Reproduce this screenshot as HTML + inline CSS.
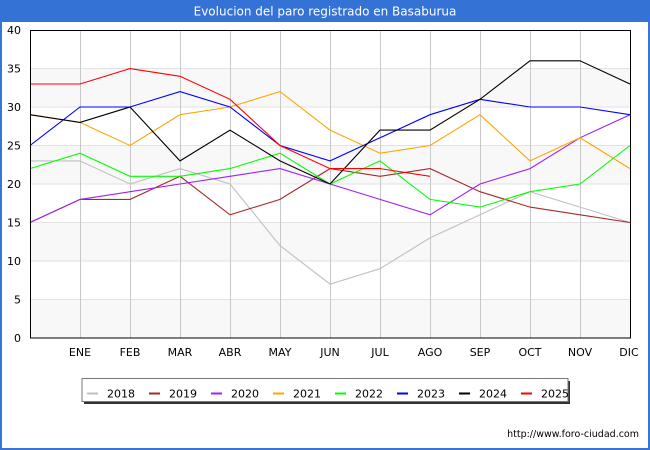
<!DOCTYPE html>
<html><head><meta charset="utf-8"><style>
html,body{margin:0;padding:0;background:#fff;}
svg{display:block;}
text{font-family:"DejaVu Sans","Liberation Sans",sans-serif;}
</style></head><body>
<svg width="650" height="450" viewBox="0 0 650 450" xmlns="http://www.w3.org/2000/svg">
<rect x="0" y="0" width="650" height="450" fill="#fff"/>
<rect x="1" y="1" width="648" height="448" fill="none" stroke="#3a74d6" stroke-width="2"/>
<rect x="0" y="0" width="650" height="22" fill="#3572d6"/>
<text x="325" y="15.5" fill="#fff" font-size="12" text-anchor="middle">Evolucion del paro registrado en Basaburua</text>
<!-- bands -->
<rect x="30" y="299.5" width="600" height="38.5" fill="#f8f8f8"/>
<rect x="30" y="222.5" width="600" height="38.5" fill="#f8f8f8"/>
<rect x="30" y="145.5" width="600" height="38.5" fill="#f8f8f8"/>
<rect x="30" y="68.5" width="600" height="38.5" fill="#f8f8f8"/>
<g stroke="#e2e2e2" stroke-width="1">
<line x1="30" y1="299.5" x2="630" y2="299.5"/>
<line x1="30" y1="261" x2="630" y2="261"/>
<line x1="30" y1="222.5" x2="630" y2="222.5"/>
<line x1="30" y1="184" x2="630" y2="184"/>
<line x1="30" y1="145.5" x2="630" y2="145.5"/>
<line x1="30" y1="107" x2="630" y2="107"/>
<line x1="30" y1="68.5" x2="630" y2="68.5"/>
</g>
<g stroke="#c8c8c8" stroke-width="1">
<line x1="80.5" y1="30" x2="80.5" y2="338"/>
<line x1="130.5" y1="30" x2="130.5" y2="338"/>
<line x1="180.5" y1="30" x2="180.5" y2="338"/>
<line x1="230.5" y1="30" x2="230.5" y2="338"/>
<line x1="280.5" y1="30" x2="280.5" y2="338"/>
<line x1="330.5" y1="30" x2="330.5" y2="338"/>
<line x1="380.5" y1="30" x2="380.5" y2="338"/>
<line x1="430.5" y1="30" x2="430.5" y2="338"/>
<line x1="480.5" y1="30" x2="480.5" y2="338"/>
<line x1="530.5" y1="30" x2="530.5" y2="338"/>
<line x1="580.5" y1="30" x2="580.5" y2="338"/>
</g>
<g fill="none" stroke-width="1.1" stroke-linejoin="miter">
<polyline stroke="#c0c0c0" points="30,160.9 80,160.9 130,184 180,168.6 230,184 280,245.6 330,284.1 380,268.7 430,237.9 480,214.8 530,191.7 580,207.1 630,222.5"/>
<polyline stroke="#a52a2a" points="30,222.5 80,199.4 130,199.4 180,176.3 230,214.8 280,199.4 330,168.6 380,176.3 430,168.6 480,191.7 530,207.1 580,214.8 630,222.5"/>
<polyline stroke="#a020f0" points="30,222.5 80,199.4 130,191.7 180,184 230,176.3 280,168.6 330,184 380,199.4 430,214.8 480,184 530,168.6 580,137.8 630,114.7"/>
<polyline stroke="#ffa500" points="30,114.7 80,122.4 130,145.5 180,114.7 230,107 280,91.6 330,130.1 380,153.2 430,145.5 480,114.7 530,160.9 580,137.8 630,168.6"/>
<polyline stroke="#00ff00" points="30,168.6 80,153.2 130,176.3 180,176.3 230,168.6 280,153.2 330,184 380,160.9 430,199.4 480,207.1 530,191.7 580,184 630,145.5"/>
<polyline stroke="#0000ff" points="30,145.5 80,107 130,107 180,91.6 230,107 280,145.5 330,160.9 380,137.8 430,114.7 480,99.3 530,107 580,107 630,114.7"/>
<polyline stroke="#000000" points="30,114.7 80,122.4 130,107 180,160.9 230,130.1 280,160.9 330,184 380,130.1 430,130.1 480,99.3 530,60.8 580,60.8 630,84"/>
<polyline stroke="#ff0000" points="30,84 80,84 130,68.6 180,76.3 230,99.3 280,145.5 330,168.6 380,168.6 430,176.3"/>
</g>
<rect x="30.5" y="30.5" width="600" height="307.5" fill="none" stroke="#000" stroke-width="1"/>
<g font-size="11" fill="#000" text-anchor="end">
<text x="21" y="342">0</text>
<text x="21" y="303.5">5</text>
<text x="21" y="265">10</text>
<text x="21" y="226.5">15</text>
<text x="21" y="188">20</text>
<text x="21" y="149.5">25</text>
<text x="21" y="111">30</text>
<text x="21" y="72.5">35</text>
<text x="21" y="34">40</text>
</g>
<g font-size="11" fill="#000" text-anchor="middle">
<text x="80" y="356">ENE</text>
<text x="130" y="356">FEB</text>
<text x="180" y="356">MAR</text>
<text x="230" y="356">ABR</text>
<text x="280" y="356">MAY</text>
<text x="330" y="356">JUN</text>
<text x="380" y="356">JUL</text>
<text x="430" y="356">AGO</text>
<text x="480" y="356">SEP</text>
<text x="530" y="356">OCT</text>
<text x="580" y="356">NOV</text>
<text x="629" y="356">DIC</text>
</g>
<!-- legend -->
<rect x="84" y="381" width="486" height="23" fill="#333"/>
<rect x="82" y="378.5" width="486" height="23" fill="#fff" stroke="#777" stroke-width="1"/>
<g stroke-width="2">
<line x1="87" y1="393.5" x2="98" y2="393.5" stroke="#c0c0c0"/>
<line x1="149" y1="393.5" x2="160" y2="393.5" stroke="#a52a2a"/>
<line x1="211" y1="393.5" x2="222" y2="393.5" stroke="#a020f0"/>
<line x1="273" y1="393.5" x2="284" y2="393.5" stroke="#ffa500"/>
<line x1="335" y1="393.5" x2="346" y2="393.5" stroke="#00ff00"/>
<line x1="397" y1="393.5" x2="408" y2="393.5" stroke="#0000ff"/>
<line x1="459" y1="393.5" x2="470" y2="393.5" stroke="#000000"/>
<line x1="521" y1="393.5" x2="532" y2="393.5" stroke="#ff0000"/>
</g>
<g font-size="11" fill="#000">
<text x="107" y="397.5">2018</text>
<text x="169" y="397.5">2019</text>
<text x="231" y="397.5">2020</text>
<text x="293" y="397.5">2021</text>
<text x="355" y="397.5">2022</text>
<text x="417" y="397.5">2023</text>
<text x="479" y="397.5">2024</text>
<text x="541" y="397.5">2025</text>
</g>
<text x="639" y="437" font-size="9.5" fill="#000" text-anchor="end">http://www.foro-ciudad.com</text>
</svg>
</body></html>
